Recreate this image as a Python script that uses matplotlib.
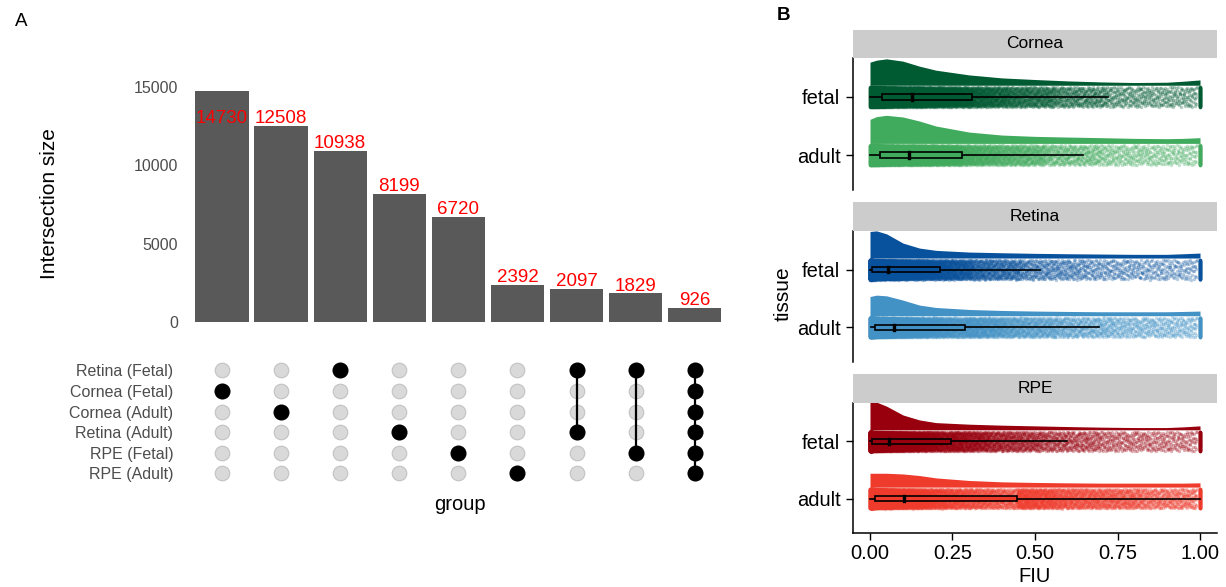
import numpy as np
import matplotlib
matplotlib.use("Agg")
import matplotlib.pyplot as plt
from matplotlib.patches import Rectangle

plt.rcParams["font.family"] = ["Liberation Sans", "DejaVu Sans"]

# ---------------- Panel A: UpSet-style intersections ----------------
set_names = ["Retina (Fetal)", "Cornea (Fetal)", "Cornea (Adult)",
             "Retina (Adult)", "RPE (Fetal)", "RPE (Adult)"]
intersection_sizes = [14730, 12508, 10938, 8199, 6720, 2392, 2097, 1829, 926]
intersection_members = [
    ["Cornea (Fetal)"],
    ["Cornea (Adult)"],
    ["Retina (Fetal)"],
    ["Retina (Adult)"],
    ["RPE (Fetal)"],
    ["RPE (Adult)"],
    ["Retina (Fetal)", "Retina (Adult)"],
    ["Retina (Fetal)", "RPE (Fetal)"],
    ["Retina (Fetal)", "Cornea (Fetal)", "Cornea (Adult)",
     "Retina (Adult)", "RPE (Fetal)", "RPE (Adult)"],
]
size_ticks = [0, 5000, 10000, 15000]

# ---------------- Panel B: FIU raincloud ----------------
tissues = ["Cornea", "Retina", "RPE"]
stages = ["adult", "fetal"]          # bottom -> top
group_colors = {
    ("Cornea", "fetal"): "#005A32", ("Cornea", "adult"): "#41AB5D",
    ("Retina", "fetal"): "#08519C", ("Retina", "adult"): "#4292C6",
    ("RPE", "fetal"): "#99000D",    ("RPE", "adult"): "#EF3B2C",
}
# half-violin density profile (relative)
dens_x = [0, 0.02, 0.05, 0.1, 0.15, 0.2, 0.3, 0.4, 0.5, 0.6, 0.7, 0.8, 0.9, 0.95, 1.0]
density = {
    ("Cornea", "fetal"): [23, 25, 26.3, 24, 19, 15, 10.3, 7.3, 5.7, 4.3, 3.3, 2.7, 3, 4, 5.3],
    ("Cornea", "adult"): [24, 26.7, 28, 26.3, 22.3, 17.3, 11.3, 8.3, 7, 6.3, 5.7, 5, 4.7, 5, 5.7],
    ("Retina", "fetal"): [26.7, 27.3, 24.3, 15, 10, 7.7, 6, 5.3, 4.7, 4.3, 4, 3.7, 3.7, 4.3, 5],
    ("Retina", "adult"): [19.3, 20.7, 20, 15.7, 10.7, 8.3, 6.3, 5.3, 4.7, 4.3, 4, 4, 4, 4.3, 4.7],
    ("RPE", "fetal"):    [28, 28, 24, 15, 10, 7.3, 5.7, 4.7, 4, 3.3, 2.7, 2.3, 2.3, 3, 4],
    ("RPE", "adult"):    [14, 14, 14, 13.3, 11.7, 9.3, 6.7, 5.3, 4.7, 4.3, 4, 4, 4, 4, 4.3],
}
# box: lower whisker, q1, median, q3, upper whisker
box_stats = {
    ("Cornea", "fetal"): [0.0, 0.036, 0.127, 0.310, 0.720],
    ("Cornea", "adult"): [0.0, 0.031, 0.117, 0.279, 0.646],
    ("Retina", "fetal"): [0.0, 0.006, 0.056, 0.212, 0.515],
    ("Retina", "adult"): [0.003, 0.014, 0.072, 0.288, 0.695],
    ("RPE", "fetal"):    [0.0, 0.006, 0.058, 0.245, 0.598],
    ("RPE", "adult"):    [0.0, 0.015, 0.104, 0.445, 1.000],
}
# estimated FIU quantiles of the plotted genes (excluding genes at exactly 1)
quant_probs = [0, 0.10, 0.25, 0.50, 0.75, 0.83, 0.90, 0.95, 1.0]
fiu_quantiles = {
    ("Cornea", "fetal"): [0, 0.012, 0.036, 0.127, 0.310, 0.42, 0.56, 0.72, 0.99],
    ("Cornea", "adult"): [0, 0.010, 0.031, 0.117, 0.279, 0.39, 0.53, 0.70, 0.99],
    ("Retina", "fetal"): [0, 0.002, 0.006, 0.056, 0.212, 0.31, 0.46, 0.66, 0.99],
    ("Retina", "adult"): [0, 0.004, 0.014, 0.072, 0.288, 0.41, 0.57, 0.74, 0.99],
    ("RPE", "fetal"):    [0, 0.002, 0.006, 0.058, 0.245, 0.36, 0.52, 0.70, 0.99],
    ("RPE", "adult"):    [0, 0.004, 0.015, 0.104, 0.445, 0.56, 0.70, 0.82, 0.99],
}
share_at_one = 0.03
n_genes = 8000
fiu_ticks = [0, 0.25, 0.5, 0.75, 1.0]

W, H = 1226, 587
fig = plt.figure(figsize=(W / 100, H / 100), dpi=100)


def px_axes(left, top, right, bottom):
    return fig.add_axes([left / W, 1 - bottom / H, (right - left) / W, (bottom - top) / H])


def radical_inverse(n, base):
    # van der Corput sequence, used for an even (non-random) spread of points
    n = np.asarray(n, dtype=np.int64).copy()
    out = np.zeros(n.shape)
    f = 1.0 / base
    while np.any(n > 0):
        out += f * (n % base)
        n //= base
        f /= base
    return out


# ---- A: bars
ax_bar = px_axes(186.5, 79.3, 730.2, 322)
xpos = np.arange(len(intersection_sizes))
ax_bar.bar(xpos, intersection_sizes, width=0.9, color="#595959")
label_cap = intersection_sizes[1]  # top label is pulled down to stay in panel
for x, v in zip(xpos, intersection_sizes):
    ax_bar.annotate(str(v), (x, min(v, label_cap)), xytext=(0, 2),
                    textcoords="offset points", ha="center", va="baseline",
                    color="red", fontsize=13.5)
ax_bar.set_xlim(-0.6, len(xpos) - 0.4)
ax_bar.set_ylim(0, 15500)
ax_bar.set_yticks(size_ticks)
ax_bar.set_xticks([])
ax_bar.tick_params(axis="y", length=0, pad=6, labelsize=11.5, labelcolor="#4D4D4D")
for s in ax_bar.spines.values():
    s.set_visible(False)

# ---- A: matrix
ax_mat = px_axes(186.5, 360, 730.2, 483.7)
rows = np.arange(len(set_names))
for x, members in zip(xpos, intersection_members):
    ax_mat.plot([x] * len(rows), rows, "o", ms=10.5, color="#D9D9D9",
                mec="#C2C2C2", mew=0.8, zorder=1)
    active = [set_names.index(m) for m in members]
    if len(active) > 1:
        ax_mat.plot([x, x], [min(active), max(active)], color="black", lw=1.6, zorder=2)
    ax_mat.plot([x] * len(active), active, "o", ms=10.5, color="black", zorder=3)
ax_mat.set_xlim(-0.6, len(xpos) - 0.4)
ax_mat.set_ylim(len(rows) - 0.5, -0.5)
ax_mat.set_yticks(rows)
ax_mat.set_yticklabels(set_names)
ax_mat.set_xticks([])
ax_mat.tick_params(axis="y", length=0, pad=9.5, labelsize=11.5, labelcolor="#4D4D4D")
for s in ax_mat.spines.values():
    s.set_visible(False)

fig.text(15 / W, 1 - 22 / H, "A", fontsize=13.5, va="center", ha="left")
fig.text(50 / W, 1 - 204 / H, "Intersection size", rotation=90,
         fontsize=15, ha="center", va="center")
fig.text(460 / W, 1 - 505 / H, "group", fontsize=14.5, ha="center", va="center")

# ---- B: raincloud facets
panel_tops = [58, 231, 403]
panel_bottoms = [190, 362, 533]
strip_tops = [30, 202, 374]
px_per_unit = 58.0
band = 10 / px_per_unit          # half-height of jitter band
box_half = 2.8 / px_per_unit
violin_gap = 11.7 / px_per_unit

idx = np.arange(1, n_genes + 1)
p_seq = radical_inverse(idx, 2)
jit = (radical_inverse(idx, 3) - 0.5) * 2 * band

for k, tissue in enumerate(tissues):
    ax = px_axes(853, panel_tops[k], 1217, panel_bottoms[k])
    sax = px_axes(853, strip_tops[k], 1217, panel_tops[k])
    sax.add_patch(Rectangle((0, 0), 1, 1, color="#CCCCCC", transform=sax.transAxes))
    sax.text(0.5, 0.5, tissue, ha="center", va="center", fontsize=12.5)
    sax.axis("off")

    for yc, stage in enumerate(stages, start=1):
        key = (tissue, stage)
        col = group_colors[key]
        # half violin
        base = yc + violin_gap
        dens = np.array(density[key]) / px_per_unit
        ax.fill_between(dens_x, base, base + dens, color=col, lw=0, zorder=1)
        # jittered points: FIU from the quantile table, a share sits at exactly 1
        eps = 0.01
        logq = np.log(np.array(fiu_quantiles[key]) + eps)
        p_rest = np.clip(p_seq / (1 - share_at_one), 0, 1)
        xs = np.exp(np.interp(p_rest, quant_probs, logq)) - eps
        xs[p_seq >= 1 - share_at_one] = 1.0
        ax.scatter(xs, yc + jit, s=6, color=col, alpha=0.3, lw=0, zorder=2)
        # box plot
        lo, q1, med, q3, hi = box_stats[key]
        ax.plot([lo, q1], [yc, yc], color="black", lw=1.2, zorder=3)
        ax.plot([q3, hi], [yc, yc], color="black", lw=1.2, zorder=3)
        ax.add_patch(Rectangle((q1, yc - box_half), q3 - q1, 2 * box_half,
                               facecolor=col, edgecolor="black", lw=1.2, zorder=3))
        ax.plot([med, med], [yc - box_half, yc + box_half], color="black", lw=2.4, zorder=4)

    ax.set_xlim(-0.0515, 1.0515)
    ax.set_ylim(0.4, 2.67)
    ax.set_yticks([1, 2])
    ax.set_yticklabels(stages)
    ax.tick_params(axis="y", length=5, width=1, pad=4, labelsize=14.5, colors="black")
    for side in ["top", "right"]:
        ax.spines[side].set_visible(False)
    ax.spines["left"].set_linewidth(1.1)
    if k == len(tissues) - 1:
        ax.set_xticks(fiu_ticks)
        ax.set_xticklabels([f"{t:.2f}" for t in fiu_ticks])
        ax.tick_params(axis="x", length=5, width=1, pad=3, labelsize=14.5)
        ax.spines["bottom"].set_linewidth(1.1)
    else:
        ax.set_xticks([])
        ax.spines["bottom"].set_visible(False)

fig.text(777 / W, 1 - 15 / H, "B", fontsize=13.5, fontweight="bold", va="center")
fig.text(783 / W, 1 - 294 / H, "tissue", rotation=90, fontsize=15,
         ha="center", va="center")
fig.text(1035 / W, 1 - 576 / H, "FIU", fontsize=14.5, ha="center", va="center")

fig.savefig("out.png", dpi=100)
